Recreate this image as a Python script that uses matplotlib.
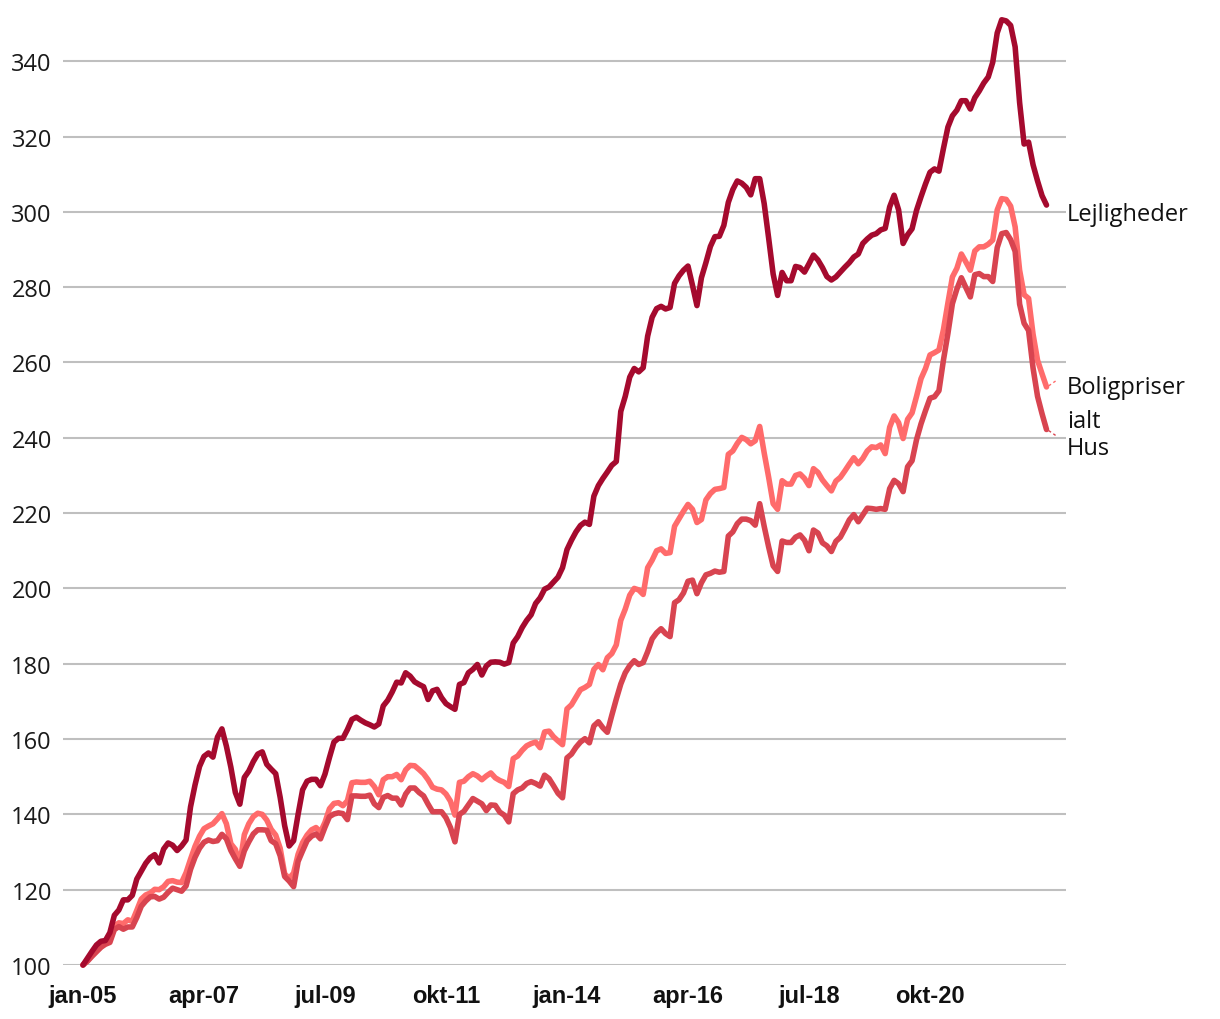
import matplotlib
matplotlib.use("Agg")
import matplotlib.pyplot as plt
import numpy as np

# ---------------- data (index, jan-05 = 100), monthly jan-05 .. dec-22 ----------------
month_names = ["jan", "feb", "mar", "apr", "maj", "jun", "jul", "aug", "sep", "okt", "nov", "dec"]
years = list(range(2005, 2023))
categories = [f"{m}-{str(y)[2:]}" for y in years for m in month_names]

lejligheder = [
    100, 101.8, 103.6, 105.3, 106.3, 106.5, 108.6, 113.2, 114.6, 117.3, 117.3, 118.5,
    122.8, 124.9, 127.0, 128.5, 129.3, 127.1, 130.8, 132.4, 131.8, 130.4, 131.6, 133.2,
    142.0, 147.8, 152.7, 155.4, 156.3, 155.2, 160.5, 162.7, 158.1, 152.5, 145.8, 142.7,
    149.8, 151.5, 154.0, 156.0, 156.6, 153.3, 152.0, 150.8, 144.5, 137.0, 131.6, 133.0,
    140.0, 146.5, 148.8, 149.3, 149.3, 147.6, 150.7, 155.1, 159.2, 160.2, 160.2, 162.5,
    165.2, 165.8, 165.0, 164.3, 163.8, 163.2, 164.0, 168.8, 170.3, 172.5, 175.1, 174.9,
    177.6, 176.7, 175.2, 174.5, 173.9, 170.5, 172.8, 173.2, 171.0, 169.4, 168.6, 167.9,
    174.5, 175.0, 177.6, 178.5, 179.8, 177.0, 179.4, 180.4, 180.5, 180.4, 179.9, 180.3,
    185.5, 187.2, 189.6, 191.5, 193.0, 196.0, 197.5, 199.8, 200.4, 201.7, 203.0, 205.5,
    210.3, 212.8, 215.0, 216.7, 217.6, 217.0, 224.5, 227.3, 229.2, 230.9, 232.7, 233.7,
    247.0, 251.0, 256.1, 258.4, 257.5, 258.6, 267.0, 272.0, 274.3, 274.9, 274.2, 274.6,
    281.0, 283.0, 284.5, 285.6, 280.5, 275.1, 282.5, 286.5, 290.8, 293.4, 293.5, 296.4,
    302.5, 305.9, 308.2, 307.6, 306.5, 304.5, 308.8, 308.8, 302.2, 293.0, 283.5, 277.8,
    283.9, 281.7, 281.7, 285.5, 285.2, 284.0, 286.2, 288.5, 287.2, 285.2, 282.8, 281.9,
    282.7, 284.0, 285.3, 286.5, 288.0, 288.8, 291.6, 292.8, 293.8, 294.2, 295.2, 295.6,
    301.3, 304.4, 300.5, 291.6, 293.9, 295.5, 300.4, 304.0, 307.4, 310.5, 311.4, 310.8,
    316.8, 322.5, 325.5, 327.0, 329.5, 329.5, 327.3, 330.3, 332.1, 334.2, 335.8, 339.7,
    347.5, 351.0, 350.7, 349.5, 343.8, 329.0, 318.0, 318.5, 312.5, 308.2, 304.3, 301.8,
]

boligpriser_ialt = [
    100, 101.2, 102.5, 103.7, 104.8, 106.0, 106.9, 110.3, 111.2, 111.0, 112.0, 111.6,
    114.5, 117.5, 118.6, 119.1, 120.1, 120.0, 120.8, 122.2, 122.4, 122.0, 121.9, 124.5,
    128.1, 131.5, 134.2, 136.2, 136.9, 137.5, 138.8, 140.2, 137.5, 132.2, 130.7, 126.7,
    134.6, 137.5, 139.4, 140.3, 140.0, 138.5, 136.0, 134.5, 131.0, 124.2, 123.0, 124.4,
    129.4, 132.5, 134.5, 135.9, 136.5, 135.3, 137.9, 141.5, 142.9, 143.1, 142.3, 143.6,
    148.4, 148.6, 148.5, 148.5, 148.8, 147.4, 145.2, 149.2, 150.0, 150.0, 150.6, 149.2,
    151.8, 153.0, 152.9, 151.9, 150.8, 149.2, 147.2, 146.7, 146.5, 145.4, 143.5, 139.8,
    148.5, 148.8, 150.0, 150.8, 150.2, 149.2, 150.2, 151.0, 149.7, 149.0, 148.5, 147.4,
    154.8, 155.5, 157.0, 158.2, 158.8, 159.2, 157.7, 161.9, 162.1, 160.6, 159.5, 158.5,
    168.0, 169.1, 171.1, 173.1, 173.7, 174.5, 178.5, 179.8, 178.4, 181.6, 182.7, 185.0,
    191.5, 194.5, 198.2, 200.0, 199.6, 198.4, 205.5, 207.5, 210.0, 210.5, 209.3, 209.5,
    216.5, 218.5, 220.5, 222.3, 221.0, 217.5, 218.3, 223.5, 225.2, 226.3, 226.5, 226.8,
    235.6, 236.5, 238.5, 240.1, 239.5, 238.4, 239.2, 243.0, 236.0, 229.5, 222.5, 221.0,
    228.6, 227.7, 227.7, 230.0, 230.4, 229.2, 227.3, 231.8, 230.8, 228.8, 227.3, 225.9,
    228.5, 229.5, 231.2, 233.0, 234.7, 233.1, 234.5, 236.5, 237.6, 237.4, 238.1, 235.8,
    242.8, 245.8, 244.0, 239.8, 244.9, 246.6, 251.0, 255.7, 258.4, 262.0, 262.6, 263.3,
    268.7, 275.8, 282.7, 285.0, 288.8, 286.7, 284.5, 289.6, 290.7, 290.7, 291.4, 292.5,
    300.5, 303.5, 303.3, 301.5, 296.0, 284.5, 278.0, 277.0, 267.5, 260.6, 257.0, 253.5,
]

hus = [
    100, 101.0, 102.3, 103.5, 104.7, 105.5, 106.0, 109.4, 110.2, 109.5, 110.1, 110.1,
    112.6, 115.6, 117.0, 118.1, 118.2, 117.5, 118.0, 119.3, 120.4, 120.0, 119.6, 121.0,
    125.4, 128.6, 131.0, 132.6, 133.2, 132.8, 133.0, 134.7, 133.5, 130.4, 128.2, 126.2,
    130.3, 132.7, 134.8, 135.9, 135.9, 135.8, 133.0, 132.2, 129.0, 123.5, 122.3, 120.8,
    127.5, 130.3, 133.0, 134.2, 134.8, 133.5, 136.6, 139.4, 140.1, 140.4, 140.2, 138.6,
    144.9, 144.9, 144.8, 144.8, 145.1, 142.8, 141.8, 144.5, 145.0, 144.3, 144.3, 142.5,
    145.4, 147.0, 147.0, 145.8, 144.9, 142.7, 140.7, 140.7, 140.7, 139.1, 136.5, 132.7,
    140.0, 140.8, 142.5, 144.2, 143.5, 142.8, 141.0, 142.5, 142.4, 140.6, 139.8, 138.0,
    145.5, 146.5, 147.0, 148.2, 148.7, 148.2, 147.5, 150.4, 149.5, 147.6, 145.6, 144.4,
    155.0, 156.0, 157.8, 159.2, 160.1, 159.0, 163.5, 164.6, 163.0, 161.8, 166.3, 170.6,
    174.6, 177.6, 179.5, 180.8, 179.8, 180.3, 183.2, 186.6, 188.2, 189.3, 188.0, 187.2,
    196.2, 197.0, 198.8, 201.9, 202.2, 198.6, 201.5, 203.6, 204.0, 204.6, 204.3, 204.5,
    213.9, 215.0, 217.2, 218.4, 218.4, 218.0, 216.8, 222.5, 216.5, 211.0, 206.0, 204.5,
    212.6, 212.2, 212.2, 213.6, 214.2, 212.8, 210.0, 215.5, 214.7, 212.1, 211.3, 209.8,
    212.5, 213.6, 215.8, 218.2, 219.6, 217.7, 219.5, 221.3, 221.2, 221.0, 221.2, 221.0,
    226.5, 228.7, 227.8, 225.7, 232.3, 233.9, 239.5, 243.7, 247.2, 250.5, 250.9, 252.5,
    260.6, 267.7, 275.6, 279.5, 282.5, 279.9, 277.4, 283.3, 283.6, 282.8, 282.8, 281.5,
    290.5, 294.2, 294.5, 292.6, 289.5, 275.5, 270.4, 268.5, 258.5, 251.0, 246.4, 242.2,
]

tick_labels = ["jan-05", "apr-07", "jul-09", "okt-11", "jan-14", "apr-16", "jul-18", "okt-20"]
y_ticks = [100, 120, 140, 160, 180, 200, 220, 240, 260, 280, 300, 320, 340]

series_names = ["Boligpriser\nialt", "Hus", "Lejligheder"]
colors = {"Lejligheder": "#A50A2E", "Boligpriser\nialt": "#FF6B6B", "Hus": "#D84450"}

# ---------------- figure ----------------
W, H = 1220, 1020
fig = plt.figure(figsize=(W / 100, H / 100), dpi=100)
ax = fig.add_axes([63 / W, 54 / H, (1066 - 63) / W, (966 - 17) / H])

x = np.arange(len(categories))
data = {"Lejligheder": lejligheder, "Boligpriser\nialt": boligpriser_ialt, "Hus": hus}
for name in series_names:
    ax.plot(x, data[name], color=colors[name], lw=4.0, solid_joinstyle="round",
            solid_capstyle="round", zorder=3, clip_on=False)

ax.set_xlim(-4.46, 219.35)
ax.set_ylim(100, 352)

ax.set_yticks(y_ticks)
ax.set_yticklabels([str(v) for v in y_ticks], fontfamily="Open Sans", fontsize=17, color="#1a1a1a")
ax.yaxis.grid(True, color="#BFBFBF", lw=1.5, zorder=0)
ax.xaxis.grid(False)
ax.tick_params(axis="y", length=0, pad=8)

tick_pos = [categories.index(t) for t in tick_labels]
ax.set_xticks(tick_pos)
ax.set_xticklabels(tick_labels, fontfamily="Liberation Sans", fontweight="bold", fontsize=17,
                   color="#111111")
ax.tick_params(axis="x", length=0, pad=14)

for s in ax.spines.values():
    s.set_visible(False)

# end labels
last = len(categories) - 1
label_x = 219.6
ax.text(label_x, lejligheder[last] - 2.3, "Lejligheder", fontfamily="Open Sans", fontsize=17,
        va="center", ha="left", color="#111111", clip_on=False)
ax.text(label_x, boligpriser_ialt[last] - 4.5, "Boligpriser\nialt", fontfamily="Open Sans", fontsize=17,
        va="center", ha="left", color="#111111", linespacing=1.55, clip_on=False)
ax.text(label_x, hus[last] - 4.9, "Hus", fontfamily="Open Sans", fontsize=17,
        va="center", ha="left", color="#111111", clip_on=False)

# small leader lines
ax.plot([last + 0.5, last + 2.3], [boligpriser_ialt[last] + 0.3, boligpriser_ialt[last] + 1.8],
        color=colors["Boligpriser\nialt"], lw=1, ls=(0, (2, 2)), clip_on=False)
ax.plot([last + 0.5, last + 2.3], [hus[last] - 0.3, hus[last] - 1.8],
        color=colors["Hus"], lw=1, ls=(0, (2, 2)), clip_on=False)

fig.savefig("out.png", dpi=100)
